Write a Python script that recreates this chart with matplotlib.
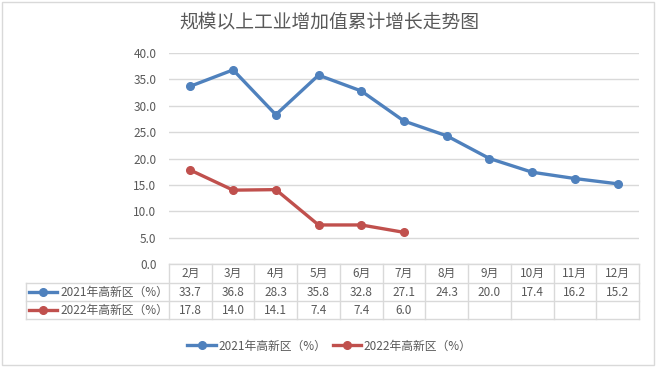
import matplotlib.pyplot as plt
import matplotlib.transforms as mtransforms
from matplotlib.patches import Rectangle
from matplotlib.lines import Line2D

plt.rcParams['font.family'] = ['Noto Sans CJK SC', 'DejaVu Sans']

# datos
titulo = "规模以上工业增加值累计增长走势图"
meses = ["2月", "3月", "4月", "5月", "6月", "7月", "8月", "9月", "10月", "11月", "12月"]
serie_2021 = [33.7, 36.8, 28.3, 35.8, 32.8, 27.1, 24.3, 20.0, 17.4, 16.2, 15.2]
serie_2022 = [17.8, 14.0, 14.1, 7.4, 7.4, 6.0]
nombre_2021 = "2021年高新区（%）"
nombre_2022 = "2022年高新区（%）"

azul = "#4F81BD"
rojo = "#C0504D"
gris_txt = "#595959"
gris_lin = "#D9D9D9"

W, H = 659, 369
fig = plt.figure(figsize=(W / 100, H / 100), dpi=100)

def fy(y):
    return 1 - y / H

# area del grafico (en pixeles)
x0, x1, ytop, ybot = 169, 639, 53, 264
ax = fig.add_axes([x0 / W, fy(ybot), (x1 - x0) / W, (ybot - ytop) / H])

x = list(range(len(meses)))
ax.plot(x, serie_2021, color=azul, lw=2.4, marker="o", ms=5.5, solid_capstyle="round")
ax.plot(x[:len(serie_2022)], serie_2022, color=rojo, lw=2.4, marker="o", ms=5.5, solid_capstyle="round")

ax.set_xlim(-0.5, len(meses) - 0.5)
ax.set_ylim(0, 40)
ax.set_yticks([i * 5 for i in range(9)])
ax.set_yticklabels([f"{i * 5:.1f}" for i in range(9)], color=gris_txt, fontsize=8.5)
ax.set_xticks([])
ax.tick_params(axis="y", length=0, pad=9)
ax.grid(axis="y", color=gris_lin, lw=1)
ax.set_axisbelow(True)
for s in ax.spines.values():
    s.set_visible(False)

fig.text(0.5, fy(22), titulo, ha="center", va="center", fontsize=13.5, color=gris_txt)

# tabla de datos
tr = mtransforms.blended_transform_factory(ax.transData, fig.transFigure)
trf = fig.transFigure
filas = [264, 283, 301, 319]
xl = 26
bordes = [i - 0.5 for i in range(len(meses) + 1)]

for b in bordes:
    ax.add_line(Line2D([b, b], [fy(filas[0]), fy(filas[-1])], transform=tr, color=gris_lin, lw=1, clip_on=False))
ax.add_line(Line2D([bordes[0], bordes[-1]], [fy(filas[0])] * 2, transform=tr, color=gris_lin, lw=1, clip_on=False))
for f in filas[1:]:
    fig.add_artist(Line2D([xl / W, x1 / W], [fy(f)] * 2, transform=trf, color=gris_lin, lw=1))
fig.add_artist(Line2D([xl / W, xl / W], [fy(filas[1]), fy(filas[-1])], transform=trf, color=gris_lin, lw=1))

def centro(i):
    return fy((filas[i] + filas[i + 1]) / 2)

for i, m in enumerate(meses):
    ax.text(i, centro(0), m, transform=tr, ha="center", va="center", fontsize=8.5, color=gris_txt, clip_on=False)
for i, v in enumerate(serie_2021):
    ax.text(i, centro(1), f"{v:.1f}", transform=tr, ha="center", va="center", fontsize=8.5, color=gris_txt, clip_on=False)
for i, v in enumerate(serie_2022):
    ax.text(i, centro(2), f"{v:.1f}", transform=tr, ha="center", va="center", fontsize=8.5, color=gris_txt, clip_on=False)

for fila, col, nombre in [(1, azul, nombre_2021), (2, rojo, nombre_2022)]:
    yy = centro(fila)
    fig.add_artist(Line2D([29 / W, 57 / W], [yy, yy], transform=trf, color=col, lw=2.4))
    fig.add_artist(Line2D([43 / W], [yy], transform=trf, color=col, marker="o", ms=5.5))
    fig.text(60 / W, yy, nombre, ha="left", va="center", fontsize=8.5, color=gris_txt)

# leyenda inferior
h1 = Line2D([], [], color=azul, lw=2.4, marker="o", ms=5.5)
h2 = Line2D([], [], color=rojo, lw=2.4, marker="o", ms=5.5)
fig.legend([h1, h2], [nombre_2021, nombre_2022], loc="center", bbox_to_anchor=(0.5, fy(346)),
           ncol=2, frameon=False, fontsize=8.5, labelcolor=gris_txt, handlelength=2.4,
           handletextpad=0.2, columnspacing=0.6)

# borde exterior
fig.add_artist(Rectangle((2 / W, fy(365)), 652 / W, 363 / H, transform=trf, fill=False, edgecolor=gris_lin, lw=1))

fig.savefig("out.png", dpi=100)
